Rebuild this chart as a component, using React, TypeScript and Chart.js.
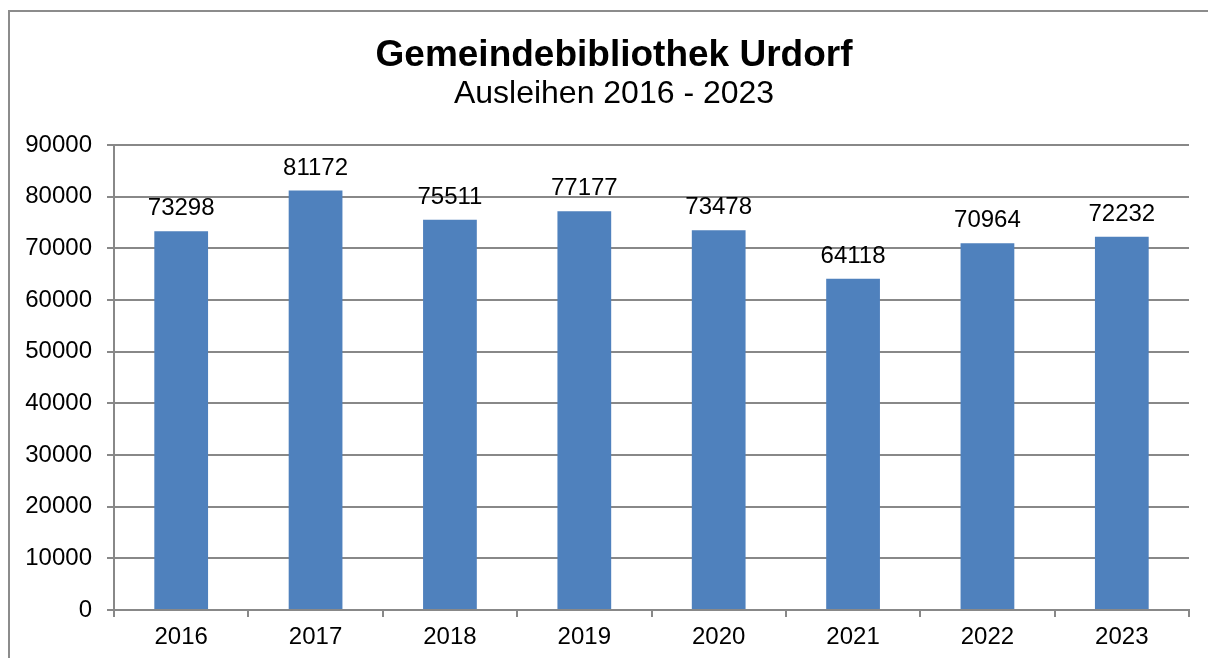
import React, { useEffect, useRef } from "react";
import { Chart, registerables } from "chart.js";

Chart.register(...registerables);

const years = ["2016", "2017", "2018", "2019", "2020", "2021", "2022", "2023"];
const loans = [73298, 81172, 75511, 77177, 73478, 64118, 70964, 72232];
const titleText = "Gemeindebibliothek Urdorf";
const subtitleText = "Ausleihen 2016 - 2023";
const yMax = 90000;
const yStep = 10000;

const W = 1208;
const H = 658;
const FONT = "Arial, 'Liberation Sans', sans-serif";
const GRID = "#888888";

const framePlugin = {
  id: "frame",
  beforeDraw(chart: any) {
    const ctx = chart.ctx;
    ctx.save();
    ctx.fillStyle = "#fff";
    ctx.fillRect(0, 0, chart.width, chart.height);
    ctx.strokeStyle = "#8c8c8c";
    ctx.lineWidth = 2;
    ctx.strokeRect(9, 11, 3000, 3000);
    ctx.restore();
  },
};

const headingPlugin = {
  id: "heading",
  afterDraw(chart: any) {
    const ctx = chart.ctx;
    ctx.save();
    ctx.fillStyle = "#000";
    ctx.textAlign = "center";
    ctx.textBaseline = "middle";
    ctx.font = `bold 37px ${FONT}`;
    ctx.fillText(titleText, 614, 56);
    ctx.font = `32px ${FONT}`;
    ctx.fillText(subtitleText, 614, 94);
    ctx.restore();
  },
};

const labelPlugin = {
  id: "barLabels",
  afterDatasetsDraw(chart: any) {
    const ctx = chart.ctx;
    const meta = chart.getDatasetMeta(0);
    ctx.save();
    ctx.fillStyle = "#000";
    ctx.font = `24px ${FONT}`;
    ctx.textAlign = "center";
    ctx.textBaseline = "alphabetic";
    meta.data.forEach((bar: any, i: number) => {
      ctx.fillText(String(loans[i]), bar.x, bar.y - 16);
    });
    ctx.restore();
  },
};

export default function App() {
  const ref = useRef<HTMLCanvasElement | null>(null);
  useEffect(() => {
    if (!ref.current) return;
    const chart = new Chart(ref.current, {
      type: "bar",
      data: {
        labels: years,
        datasets: [
          {
            data: loans,
            backgroundColor: "#4F81BD",
            barPercentage: 0.4,
            categoryPercentage: 1,
          },
        ],
      },
      options: {
        responsive: false,
        animation: false,
        devicePixelRatio: 1,
        layout: { padding: { left: 0, right: 19, top: 145, bottom: 0 } },
        plugins: {
          legend: { display: false },
          tooltip: { enabled: false },
          title: { display: false },
          subtitle: { display: false },
        },
        scales: {
          x: {
            grid: {
              display: true,
              drawOnChartArea: false,
              drawTicks: true,
              tickLength: 7,
              color: GRID,
              lineWidth: 2,
              offset: true,
            },
            border: { display: true, color: GRID, width: 2 },
            ticks: { color: "#000", font: { family: FONT, size: 24 }, padding: 6 },
            afterFit: (s: any) => {
              s.height = 48;
            },
          },
          y: {
            min: 0,
            max: yMax,
            ticks: {
              stepSize: yStep,
              color: "#000",
              font: { family: FONT, size: 24 },
              padding: 15,
              callback: (v: any) => String(v),
            },
            grid: { color: GRID, lineWidth: 2, tickLength: 7 },
            border: { display: true, color: GRID, width: 2 },
            afterFit: (s: any) => {
              s.width = 114;
            },
          },
        },
      },
      plugins: [framePlugin, labelPlugin, headingPlugin],
    });
    return () => chart.destroy();
  }, []);

  return (
    <div
      style={{
        position: "absolute",
        left: 0,
        top: 0,
        width: W,
        height: H,
        background: "#fff",
      }}
    >
      <canvas ref={ref} width={W} height={H} style={{ display: "block" }} />
    </div>
  );
}
